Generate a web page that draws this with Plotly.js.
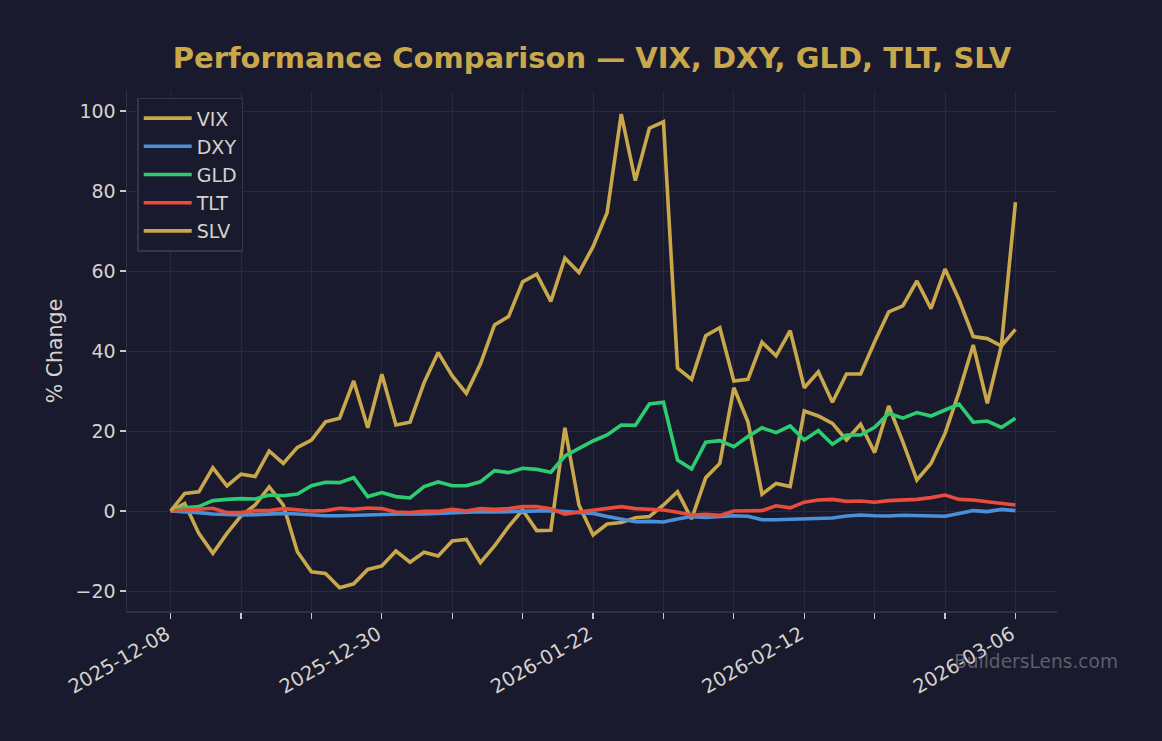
<!DOCTYPE html>
<html>
<head>
<meta charset="utf-8">
<script src="https://cdn.plot.ly/plotly-3.0.1.min.js"></script>
<style>html,body{margin:0;padding:0;background:#1a1a2e;}#chart{width:1162px;height:741px;}</style>
</head>
<body>
<div id="chart"></div>
<script>
const dates = [
  "2025-12-08","2025-12-09","2025-12-10","2025-12-11","2025-12-12",
  "2025-12-15","2025-12-16","2025-12-17","2025-12-18","2025-12-19",
  "2025-12-22","2025-12-23","2025-12-24","2025-12-26","2025-12-29",
  "2025-12-30","2025-12-31","2026-01-02","2026-01-05","2026-01-06",
  "2026-01-07","2026-01-08","2026-01-09","2026-01-12","2026-01-13",
  "2026-01-14","2026-01-15","2026-01-16","2026-01-20","2026-01-21",
  "2026-01-22","2026-01-23","2026-01-26","2026-01-27","2026-01-28",
  "2026-01-29","2026-01-30","2026-02-02","2026-02-03","2026-02-04",
  "2026-02-05","2026-02-06","2026-02-09","2026-02-10","2026-02-11",
  "2026-02-12","2026-02-13","2026-02-17","2026-02-18","2026-02-19",
  "2026-02-20","2026-02-23","2026-02-24","2026-02-25","2026-02-26",
  "2026-02-27","2026-03-02","2026-03-03","2026-03-04","2026-03-05",
  "2026-03-06"
];

const vix = [0, 1.9, -5.6, -10.6, -5.6, -1.2, 1.5, 6.0, 1.5, -10.2,
  -15.2, -15.6, -19.2, -18.2, -14.6, -13.75, -10, -12.8, -10.3, -11.25,
  -7.5, -7.1, -12.9, -8.75, -3.9, 0.25, -4.9, -4.8, 20.8, 1.5,
  -6, -3.25, -2.9, -1.7, -1.4, 1.5, 4.8, -2, 8.3, 11.9,
  30.8, 22.3, 4.2, 6.9, 6.1, 25, 23.75, 21.9, 17.75, 21.7,
  14.6, 26.25, 17.3, 7.75, 11.9, 19.4, 29.8, 41.5, 26.9, 41.3,
  77.2];

const dxy = [0, -0.1, -0.4, -0.75, -0.9, -1.0, -0.9, -0.75, -0.6, -0.75,
  -1.0, -1.2, -1.2, -1.1, -0.8, -0.7, -0.7, -0.7, -0.75, -0.6,
  -0.4, -0.25, -0.15, -0.25, -0.15, 0.1, 0.15, 0.1, -0.15, -0.4,
  -0.6, -1.4, -2.0, -2.7, -2.6, -2.75, -2.0, -1.4, -1.6, -1.4,
  -1.2, -1.3, -2.2, -2.2, -2.1, -2.0, -2.0, -1.75, -1.25, -1.0,
  -1.2, -1.25, -1.05, -1.2, -1.2, -1.3, -0.6, 0.1, -0.15, 0.4,
  0.1];

const gld = [0, 0.8, 1.1, 2.6, 2.9, 3.1, 3.0, 4.0, 3.8, 4.25,
  6.3, 7.2, 7.1, 8.35, 3.6, 4.6, 3.6, 3.25, 6.1, 7.25,
  6.3, 6.3, 7.3, 10.1, 9.6, 10.7, 10.4, 9.7, 13.75, 15.7,
  17.5, 19.0, 21.5, 21.4, 26.75, 27.2, 12.75, 10.5, 17.2, 17.6,
  16.1, 18.6, 20.8, 19.6, 21.25, 17.75, 20.1, 16.7, 19.0, 19.0,
  20.9, 24.4, 23.2, 24.6, 23.75, 25.25, 26.7, 22.2, 22.5, 20.9,
  23.2];

const tlt = [0, 0.25, 0.6, 0.7, -0.4, -0.4, 0.1, 0.1, 0.6, 0.25,
  0, 0.1, 0.7, 0.4, 0.75, 0.6, -0.25, -0.4, -0.1, -0.1,
  0.4, 0, 0.6, 0.4, 0.6, 1.1, 1.1, 0.55, -0.8, -0.25,
  0.25, 0.6, 1.1, 0.6, 0.4, 0.25, -0.3, -1.0, -0.8, -1.1,
  0, 0.1, 0.1, 1.3, 0.8, 2.2, 2.75, 2.9, 2.4, 2.5,
  2.2, 2.6, 2.8, 2.9, 3.35, 4.0, 2.9, 2.75, 2.3, 1.9,
  1.5];

const slv = [0, 4.4, 4.8, 10.8, 6.25, 9.2, 8.6, 15, 11.9, 15.9,
  17.75, 22.3, 23.2, 32.5, 20.8, 34.2, 21.5, 22.2, 32.1, 39.6,
  33.75, 29.4, 36.75, 46.5, 48.6, 57.3, 59.2, 52.4, 63.2, 59.6,
  66.1, 74.6, 99.25, 82.6, 95.7, 97.3, 35.7, 32.9, 43.8, 45.8,
  32.5, 32.9, 42.2, 38.8, 45.1, 30.8, 34.8, 27.2, 34.25, 34.25,
  42.3, 49.8, 51.3, 57.5, 50.6, 60.5, 52.75, 43.6, 43.1, 41.25,
  45.4];

const seriesNames = ["VIX", "DXY", "GLD", "TLT", "SLV"];
const seriesValues = [vix, dxy, gld, tlt, slv];
const seriesColors = ["#c9a84c", "#4a90d9", "#2ecc71", "#e74c3c", "#c9a84c"];

const tickVals = dates.filter((d, i) => i % 5 === 0);
const tickText = dates.map((d, i) => (i % 15 === 0 ? d : "")).filter((d, i) => i % 5 === 0);

const FONT = "DejaVu Sans, Verdana, sans-serif";
const TXT = "#d6d2cc";

const traces = seriesNames.map((n, k) => ({
  type: "scatter",
  mode: "lines",
  name: n,
  legendgroup: n,
  x: dates,
  y: seriesValues[k],
  line: {color: seriesColors[k], width: 3.6},
  hoverinfo: "skip"
}));

const layout = {
  width: 1162,
  height: 741,
  paper_bgcolor: "#1a1a2e",
  plot_bgcolor: "#1a1a2e",
  margin: {l: 127, r: 105, t: 91, b: 130, pad: 0},
  font: {family: FONT, color: TXT, size: 19},
  title: {
    text: "<b>Performance Comparison — VIX, DXY, GLD, TLT, SLV</b>",
    font: {family: FONT, size: 29, color: "#c9a84c"},
    x: 0.5, xref: "paper", xanchor: "center",
    y: 0.922, yref: "container", yanchor: "middle"
  },
  xaxis: {
    type: "category",
    range: [-3.1, 62.95],
    tickmode: "array",
    tickvals: tickVals,
    ticktext: tickText,
    tickangle: -30,
    ticks: "outside",
    ticklen: 6,
    tickwidth: 1.2,
    tickcolor: "#c8c8c8",
    tickfont: {family: FONT, size: 19.5, color: TXT},
    ticklabelshift: -4,
    ticklabelstandoff: -3,
    showgrid: true,
    gridcolor: "#29293d",
    gridwidth: 1,
    showline: true,
    linecolor: "#2f2f45",
    linewidth: 1.5,
    zeroline: false,
    automargin: false,
    fixedrange: true
  },
  yaxis: {
    range: [-25, 105],
    tickmode: "array",
    tickvals: [-20, 0, 20, 40, 60, 80, 100],
    ticks: "outside",
    ticklen: 6,
    tickwidth: 1.2,
    tickcolor: "#c8c8c8",
    tickfont: {family: FONT, size: 19, color: TXT},
    showgrid: true,
    gridcolor: "#29293d",
    gridwidth: 1,
    showline: true,
    linecolor: "#2f2f45",
    linewidth: 1.5,
    zeroline: false,
    automargin: false,
    fixedrange: true,
    title: {text: "% Change", font: {family: FONT, size: 20.5, color: TXT}, standoff: 7}
  },
  legend: {
    x: 0.011, y: 0.987, xanchor: "left", yanchor: "top",
    bgcolor: "#1a1a2e",
    bordercolor: "#34344a",
    borderwidth: 1.5,
    font: {family: FONT, size: 19, color: TXT},
    traceorder: "grouped",
    tracegroupgap: 0.5,
    itemwidth: 48
  },
  showlegend: true,
  annotations: [{
    text: "BuildersLens.com",
    xref: "paper", yref: "paper",
    x: 1.0677, y: -0.098,
    xanchor: "right", yanchor: "middle",
    showarrow: false,
    font: {family: FONT, size: 18.6, color: "rgba(140,140,150,0.6)"}
  }]
};

Plotly.newPlot("chart", traces, layout, {displayModeBar: false, staticPlot: true});
</script>
</body>
</html>
